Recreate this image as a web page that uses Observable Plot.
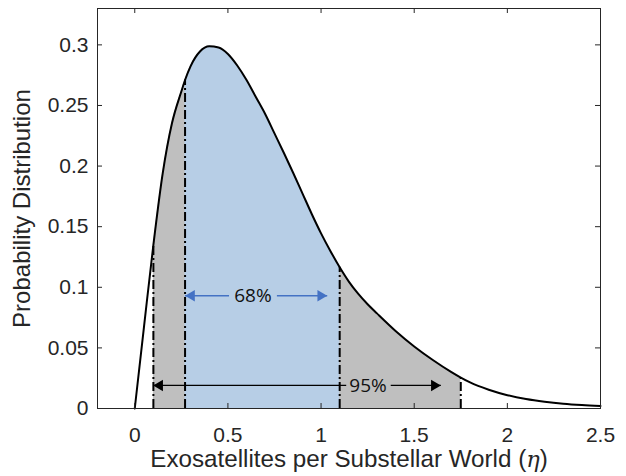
<!DOCTYPE html>
<html>
<head>
<meta charset="utf-8">
<script src="https://cdn.jsdelivr.net/npm/d3@7"></script>
<script src="https://cdn.jsdelivr.net/npm/@observablehq/plot@0.6"></script>
<style>
  html, body { margin: 0; padding: 0; background: #fff; }
</style>
</head>
<body>
<div id="chart"></div>
<script>
// Curve
const eta = [0, 0.05, 0.1, 0.15, 0.2, 0.25, 0.27, 0.3, 0.35, 0.4,
  0.45, 0.5, 0.55, 0.6, 0.65, 0.7, 0.75, 0.8, 0.85, 0.9,
  0.95, 1.0, 1.05, 1.1, 1.15, 1.2, 1.25, 1.3, 1.4, 1.5,
  1.6, 1.7, 1.75, 1.8, 1.9, 2.0, 2.1, 2.2, 2.3, 2.4, 2.5];
const prob = [0, 0.068, 0.135, 0.194, 0.2355, 0.2615, 0.271, 0.2825, 0.2945, 0.2988,
  0.2978, 0.2925, 0.283, 0.271, 0.257, 0.243, 0.227, 0.211, 0.1945, 0.1775,
  0.1605, 0.1445, 0.130, 0.1165, 0.1045, 0.0945, 0.086, 0.0785, 0.064, 0.0512,
  0.040, 0.030, 0.0255, 0.0215, 0.0155, 0.011, 0.0078, 0.0056, 0.004, 0.0029, 0.0021];

// Credible intervals
const interval95 = [0.1, 1.75];
const interval68 = [0.27, 1.1];

// Annotation arrows
const arrow68 = {y: 0.093, tipL: 0.27, gapL: 0.506, labelX: 0.634, gapR: 0.763, tipR: 1.033, label: "68%"};
const arrow95 = {y: 0.019, tipL: 0.099, gapL: 1.135, labelX: 1.252, gapR: 1.374, tipR: 1.643, label: "95%"};

const xTicks = [0, 0.5, 1, 1.5, 2, 2.5];
const xTickLabels = ["0", "0.5", "1", "1.5", "2", "2.5"];
const yTicks = [0, 0.05, 0.1, 0.15, 0.2, 0.25, 0.3];
const yTickLabels = ["0", "0.05", "0.1", "0.15", "0.2", "0.25", "0.3"];

const xLabel = "Exosatellites per Substellar World (η)";
const yLabel = "Probability Distribution";

const points = eta.map((e, i) => ({eta: e, p: prob[i]}));
const pAt = x => prob[eta.indexOf(x)];
const in95 = points.filter(d => d.eta >= interval95[0] && d.eta <= interval95[1]);
const in68 = points.filter(d => d.eta >= interval68[0] && d.eta <= interval68[1]);
const boundaries = [...interval95, ...interval68].map(x => ({x, y: pAt(x)}));

const ink = "#262626";
const blue = "#4472c4";
const mL = 97, mR = 26, mT = 8, mB = 68;
const frameW = 626 - mL - mR, frameH = 476 - mT - mB;

const arrowsLines = [
  {x1: arrow68.gapL, x2: arrow68.tipL, y: arrow68.y, c: blue},
  {x1: arrow68.gapR, x2: arrow68.tipR, y: arrow68.y, c: blue},
  {x1: arrow95.gapL, x2: arrow95.tipL, y: arrow95.y, c: "#000"},
  {x1: arrow95.gapR, x2: arrow95.tipR, y: arrow95.y, c: "#000"}
];
const tipsLeft = [
  {x: arrow68.tipL, y: arrow68.y, c: blue},
  {x: arrow95.tipL, y: arrow95.y, c: "#000"}
];
const tipsRight = [
  {x: arrow68.tipR, y: arrow68.y, c: blue},
  {x: arrow95.tipR, y: arrow95.y, c: "#000"}
];

const chart = Plot.plot({
  width: 626,
  height: 476,
  marginLeft: mL,
  marginRight: mR,
  marginTop: mT,
  marginBottom: mB,
  x: {domain: [-0.2, 2.5]},
  y: {domain: [0, 0.33]},
  style: {fontFamily: "'Liberation Sans', Arial, sans-serif", fontSize: "21px", color: ink, background: "#fff"},
  marks: [
    Plot.areaY(in95, {x: "eta", y: "p", fill: "#bfbfbf", curve: "monotone-x"}),
    Plot.areaY(in68, {x: "eta", y: "p", fill: "#b7cee6", curve: "monotone-x"}),
    Plot.ruleX(boundaries, {x: "x", y1: 0, y2: "y", stroke: "#000", strokeWidth: 2, strokeDasharray: "9,3,2,3"}),
    Plot.line(points, {x: "eta", y: "p", stroke: "#000", strokeWidth: 2, curve: "monotone-x"}),
    Plot.link(arrowsLines, {x1: "x1", x2: "x2", y1: "y", y2: "y", stroke: d => d.c, strokeWidth: 1.3}),
    Plot.dot(tipsLeft, {x: "x", y: "y", symbol: "triangle", r: 4.2, rotate: -90, dx: 6.5, fill: d => d.c, stroke: "none"}),
    Plot.dot(tipsRight, {x: "x", y: "y", symbol: "triangle", r: 4.2, rotate: 90, dx: -6.5, fill: d => d.c, stroke: "none"}),
    Plot.text([arrow68, arrow95], {x: "labelX", y: "y", text: "label", fontFamily: "'Open Sans', sans-serif", fontSize: 19, fill: "#111"}),
    Plot.frame({stroke: ink, strokeWidth: 1}),
    Plot.tickX(xTicks, {x: d => d, insetTop: frameH - 5, stroke: ink}),
    Plot.tickX(xTicks, {x: d => d, insetBottom: frameH - 5, stroke: ink}),
    Plot.tickY(yTicks, {y: d => d, insetRight: frameW - 5, stroke: ink}),
    Plot.tickY(yTicks, {y: d => d, insetLeft: frameW - 5, stroke: ink}),
    Plot.axisX(xTicks, {tickSize: 0, tickPadding: 19, tickFormat: d => xTickLabels[xTicks.indexOf(d)], label: null, fontSize: 21, fill: ink}),
    Plot.axisY(yTicks, {tickSize: 0, tickPadding: 9, tickFormat: d => yTickLabels[yTicks.indexOf(d)], label: null, fontSize: 21, fill: ink}),
    Plot.text([xLabel], {frameAnchor: "bottom", dy: 58, fontSize: 24.2, fill: ink, textAnchor: "middle"}),
    Plot.text([yLabel], {frameAnchor: "left", rotate: -90, dx: -75, fontSize: 24, fill: ink, textAnchor: "middle"})
  ]
});

// italic serif η in the x label
let xLabelNode = null;
d3.select(chart).selectAll("text").each(function() {
  const t = this.textContent;
  if (t === xLabel) {
    xLabelNode = this;
    const [before, after] = t.split("η");
    const sel = d3.select(this);
    sel.text(null);
    sel.append("tspan").text(before);
    sel.append("tspan").attr("font-style", "italic").attr("font-family", "'DejaVu Serif', 'Liberation Serif', serif").attr("font-size", 22.5).text("η");
    sel.append("tspan").text(after);
  }
});

document.getElementById("chart").appendChild(chart);

// keep the x label centred under the frame
if (xLabelNode) {
  const box = xLabelNode.getBoundingClientRect();
  const svgBox = chart.getBoundingClientRect();
  const centre = box.left - svgBox.left + box.width / 2;
  const target = mL + frameW / 2;
  const shift = target - centre;
  if (Math.abs(shift) > 0.5) {
    const g = xLabelNode.parentNode;
    const prev = g.getAttribute("transform") || "";
    g.setAttribute("transform", prev + ` translate(${shift},0)`);
  }
}
</script>
</body>
</html>
